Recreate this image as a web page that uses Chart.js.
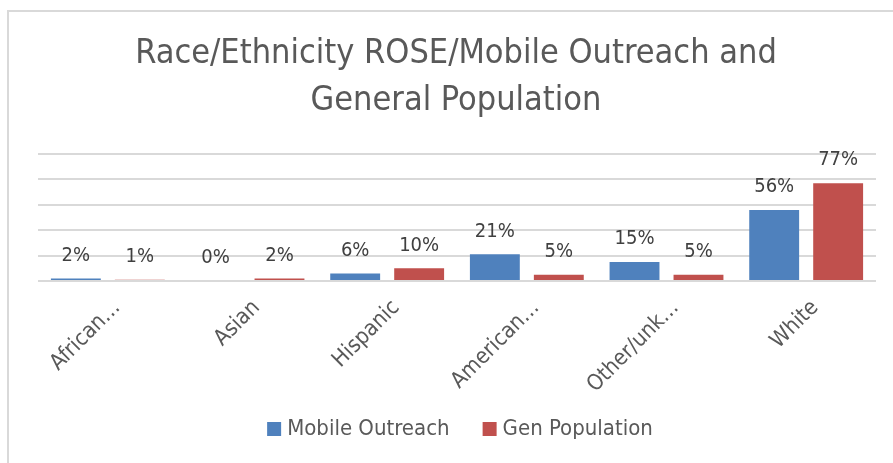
<!DOCTYPE html>
<html>
<head>
<meta charset="utf-8">
<script src="https://cdn.jsdelivr.net/npm/chart.js@4"></script>
<style>
  html, body { margin: 0; padding: 0; background: #fff; }
  #wrap { position: relative; width: 893px; height: 463px; overflow: hidden; }
  #frame { position: absolute; left: 7px; top: 10px; width: 900px; height: 470px;
           border-left: 2px solid #d9d9d9; border-top: 2px solid #d9d9d9; }
  #myChart { position: absolute; left: 0; top: 0; }
</style>
</head>
<body>
<div id="wrap">
  <div id="frame"></div>
  <canvas id="myChart" width="893" height="463"></canvas>
</div>
<script>
'use strict';

// DATA
var categories = ['African…', 'Asian', 'Hispanic', 'American…', 'Other/unk…', 'White'];
var mobileOutreach = [2, 0, 6, 21, 15, 56];
var genPopulation = [1, 2, 10, 5, 5, 77];
var seriesNames = ['Mobile Outreach', 'Gen Population'];
var titleLines = ['Race/Ethnicity ROSE/Mobile Outreach and', 'General Population'];

var FONT = "'DejaVu Sans Condensed', 'Liberation Sans Narrow', sans-serif";

// VALUE LABELS ABOVE BARS
var barLabels = {
  id: 'barLabels',
  afterDatasetsDraw: function(chart) {
    var ctx = chart.ctx;
    ctx.save();
    ctx.font = '20px ' + FONT;
    ctx.fillStyle = '#404040';
    ctx.textAlign = 'center';
    ctx.textBaseline = 'middle';
    chart.data.datasets.forEach(function(ds, i) {
      chart.getDatasetMeta(i).data.forEach(function(bar, j) {
        ctx.fillText(ds.data[j] + '%', bar.x, bar.y - 23);
      });
    });
    ctx.restore();
  }
};

// LEGEND (bottom)
var bottomLegend = {
  id: 'bottomLegend',
  afterDraw: function(chart) {
    var ctx = chart.ctx;
    ctx.save();
    ctx.font = '22px ' + FONT;
    ctx.textBaseline = 'middle';
    var boxW = 14, boxH = 14, gapText = 6, gapItem = 33;
    var total = 0;
    chart.data.datasets.forEach(function(ds, i) {
      total += boxW + gapText + ctx.measureText(ds.label).width;
      if (i > 0) total += gapItem;
    });
    var x = 460 - total / 2;
    var y = 429;
    chart.data.datasets.forEach(function(ds) {
      ctx.fillStyle = ds.backgroundColor;
      ctx.fillRect(x, y - boxH / 2, boxW, boxH);
      x += boxW + gapText;
      ctx.fillStyle = '#595959';
      ctx.fillText(ds.label, x, y);
      x += ctx.measureText(ds.label).width + gapItem;
    });
    ctx.restore();
  }
};

var ctx = document.getElementById('myChart').getContext('2d');

var chart = new Chart(ctx, {
  type: 'bar',
  data: {
    labels: categories,
    datasets: [{
      label: seriesNames[0],
      backgroundColor: '#4F81BD',
      data: mobileOutreach,
      categoryPercentage: 0.916,
      barPercentage: 0.78
    },
    {
      label: seriesNames[1],
      backgroundColor: '#C0504D',
      data: genPopulation,
      categoryPercentage: 0.916,
      barPercentage: 0.78
    }]
  },
  options: {
    responsive: false,
    animation: false,
    devicePixelRatio: 1,
    layout: { padding: { left: 36, right: 17, top: 0, bottom: 54 } },
    plugins: {
      legend: { display: false },
      tooltip: { enabled: false },
      title: {
        display: true,
        text: titleLines,
        color: '#595959',
        font: { family: FONT, size: 34, weight: 'normal', lineHeight: '47px' },
        padding: { top: 31, bottom: 29 }
      }
    },
    scales: {
      x: {
        grid: { display: false },
        border: { display: false },
        ticks: {
          color: '#595959',
          font: { family: FONT, size: 22 },
          minRotation: 45,
          maxRotation: 45,
          autoSkip: false,
          padding: 6,
          labelOffset: 9
        },
        afterFit: function(s) { s.height = 128; }
      },
      y: {
        min: 0,
        max: 100,
        ticks: { display: false, stepSize: 20 },
        border: { display: false },
        grid: { color: '#d9d9d9', lineWidth: 2, drawTicks: false },
        afterFit: function(s) { s.width = 2; }
      }
    }
  },
  plugins: [barLabels, bottomLegend]
});
</script>
</body>
</html>
